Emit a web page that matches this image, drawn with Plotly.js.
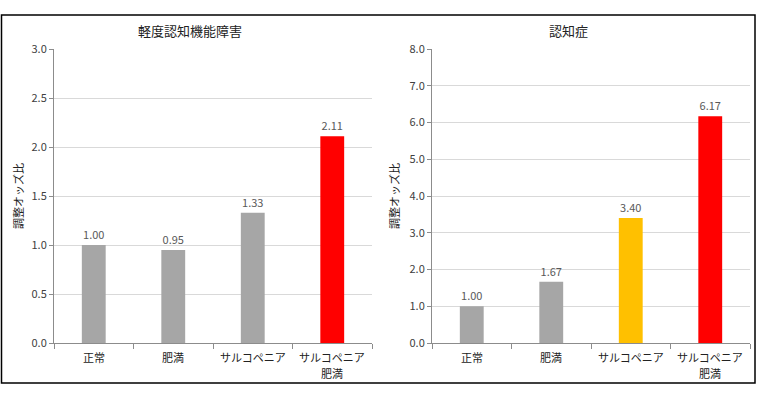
<!DOCTYPE html>
<html>
<head>
<meta charset="utf-8">
<script src="https://cdn.plot.ly/plotly-3.0.1.min.js"></script>
<style>
html,body{margin:0;padding:0;background:#fff;}
#chart{width:760px;height:399px;}
</style>
</head>
<body>
<div id="chart"></div>
<script>
const categories = ["正常", "肥満", "サルコペニア", "サルコペニア<br>肥満"];
const mciValues = [1.00, 0.95, 1.33, 2.11];
const dementiaValues = [1.00, 1.67, 3.40, 6.17];
const mciColors = ["#a6a6a6", "#a6a6a6", "#a6a6a6", "#ff0000"];
const dementiaColors = ["#a6a6a6", "#a6a6a6", "#ffc000", "#ff0000"];
const mciTitle = "軽度認知機能障害";
const dementiaTitle = "認知症";
const yTitle = "調整オッズ比";

const FONT = '"Noto Sans CJK JP", "Noto Sans", sans-serif';
const textColor = "#404040";

function barTrace(values, colors, xa, ya) {
  return {
    type: "bar", x: categories, y: values, xaxis: xa, yaxis: ya,
    marker: {color: colors, line: {width: 0}},
    width: 0.3,
    text: values.map(v => v.toFixed(2)),
    textposition: "outside",
    textfont: {family: FONT, size: 11, color: "#595959"},
    cliponaxis: false,
    hoverinfo: "skip"
  };
}

const xBase = {
  type: "category",
  showgrid: false,
  showline: true, linecolor: "#8c8c8c", linewidth: 1,
  ticks: "outside", tickson: "boundaries", ticklen: 5, tickcolor: "#8c8c8c",
  showticklabels: false,
  fixedrange: true
};
function yAxis(max, dtick, domain, anchor) {
  return {
    domain: domain, anchor: anchor,
    range: [0, max], dtick: dtick, tickformat: ".1f",
    showgrid: true, gridcolor: "#d9d9d9", gridwidth: 1,
    showline: true, linecolor: "#8c8c8c", linewidth: 1,
    ticks: "outside", ticklen: 4, tickcolor: "#8c8c8c",
    tickfont: {family: FONT, size: 11, color: textColor},
    zeroline: false, fixedrange: true
  };
}

// category labels as annotations, one per line, so lines don't collide
function catLabels(xref) {
  const out = [];
  categories.forEach(c => {
    c.split("<br>").forEach((line, i) => {
      out.push({
        text: line, xref: xref, yref: "paper", x: c, y: 1 - (357 + i * 16) / 399,
        showarrow: false, xanchor: "center", yanchor: "middle",
        font: {family: FONT, size: 11, color: "#222"}
      });
    });
  });
  return out;
}

const yDom = [1 - 343/399, 1 - 49/399];
const layout = {
  width: 760, height: 399,
  margin: {l: 0, r: 0, t: 0, b: 0},
  paper_bgcolor: "#fff", plot_bgcolor: "#fff",
  showlegend: false,
  bargap: 0.7,
  xaxis: Object.assign({}, xBase, {domain: [54/760, 372/760], anchor: "y"}),
  yaxis: yAxis(3, 0.5, yDom, "x"),
  xaxis2: Object.assign({}, xBase, {domain: [432/760, 750/760], anchor: "y2"}),
  yaxis2: yAxis(8, 1, yDom, "x2"),
  shapes: [
    {type: "rect", xref: "paper", yref: "paper",
     x0: 1.5/760, x1: 755/760, y0: 1 - 383/399, y1: 1 - 15/399,
     line: {color: "#000", width: 1.5}, fillcolor: "rgba(0,0,0,0)"}
  ],
  annotations: [
    {text: mciTitle, xref: "paper", yref: "paper", x: 190/760, y: 1 - 30/399,
     showarrow: false, xanchor: "center", yanchor: "middle",
     font: {family: FONT, size: 13, color: "#222"}},
    {text: dementiaTitle, xref: "paper", yref: "paper", x: 568/760, y: 1 - 30/399,
     showarrow: false, xanchor: "center", yanchor: "middle",
     font: {family: FONT, size: 13, color: "#222"}},
    {text: yTitle, xref: "paper", yref: "paper", x: 18/760, y: 1 - 196/399,
     showarrow: false, textangle: -90, xanchor: "center", yanchor: "middle",
     font: {family: FONT, size: 11, color: "#222"}},
    {text: yTitle, xref: "paper", yref: "paper", x: 394/760, y: 1 - 196/399,
     showarrow: false, textangle: -90, xanchor: "center", yanchor: "middle",
     font: {family: FONT, size: 11, color: "#222"}}
  ].concat(catLabels("x"), catLabels("x2"))
};

Plotly.newPlot("chart", [
  barTrace(mciValues, mciColors, "x", "y"),
  barTrace(dementiaValues, dementiaColors, "x2", "y2")
], layout, {staticPlot: true, displayModeBar: false});
</script>
</body>
</html>
